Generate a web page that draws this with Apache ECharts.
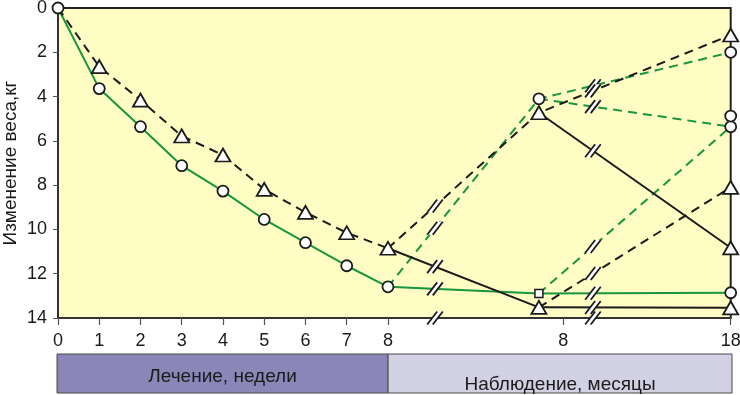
<!DOCTYPE html>
<html>
<head>
<meta charset="utf-8">
<script src="https://cdn.jsdelivr.net/npm/echarts@6/dist/echarts.min.js"></script>
<style>
html,body{margin:0;padding:0;background:#fff;}
#chart{width:740px;height:395px;}
</style>
</head>
<body>
<div id="chart"></div>
<script>
// ---------- data ----------
const weeks = [0, 1, 2, 3, 4, 5, 6, 7, 8];
const greenTreat = [0, 3.64, 5.36, 7.12, 8.27, 9.55, 10.6, 11.64, 12.59];
const blackTreat = [0, 2.65, 4.16, 5.78, 6.64, 8.19, 9.23, 10.15, 10.85];

// x-axis tick labels (weeks, then months)
const tickLabels = ['0', '1', '2', '3', '4', '5', '6', '7', '8', '8', '18'];

// follow-up branches: values at [week 8, month 8, month 18]
const greenSolidFU = [12.59, 12.89, 12.86];
const greenDashUp = [12.59, 4.1, 2.0];
const greenDashUpB = [null, 4.1, 5.36];
const greenDashLow = [null, 12.89, 5.36];
const blackDashUp = [10.85, 4.73, 1.22];
const blackSolidUp = [null, 4.73, 10.83];
const blackSolidLow = [10.85, 13.52, 13.54];
const blackDashLow = [null, 13.52, 8.1];
const loneCircle18 = [4.88];

const barLabels = ['Лечение, недели', 'Наблюдение, месяцы'];

// ---------- axis layout (compressed time scale) ----------
const X_MONTH8_TICK = 12.25;
const X_MONTH8_PT = 11.66;
const X_MONTH18 = 16.31;
const X_MAX = 16.31;
const BREAKS = [9.14, 12.97];
const tickPos = weeks.concat([X_MONTH8_TICK, X_MONTH18]);
const fuX = [8, X_MONTH8_PT, X_MONTH18];

function toPts(arr) {
  const out = [];
  arr.forEach((v, i) => { if (v != null) out.push([fuX[i], v]); });
  return out;
}

const GREEN = '#17963f';
const BLACK = '#1b1b1b';
const FONT = "'Liberation Sans Narrow', 'Liberation Sans', Arial, sans-serif";

function lineSeries(data, color, dashed) {
  return {
    type: 'line', data: data, showSymbol: false, symbol: 'none', z: 3,
    lineStyle: { color: color, width: 2, type: dashed ? [9, 6] : 'solid' },
    silent: true, animation: false
  };
}

const branches = [
  { d: greenSolidFU, c: GREEN, dash: false },
  { d: greenDashUp, c: GREEN, dash: true },
  { d: greenDashUpB, c: GREEN, dash: true },
  { d: greenDashLow, c: GREEN, dash: true },
  { d: blackDashUp, c: BLACK, dash: true },
  { d: blackSolidUp, c: BLACK, dash: false },
  { d: blackSolidLow, c: BLACK, dash: false },
  { d: blackDashLow, c: BLACK, dash: true }
];

// segments for break glyphs
const segments = [];
branches.forEach(b => {
  const p = toPts(b.d);
  for (let i = 0; i < p.length - 1; i++) segments.push([p[i][0], p[i][1], p[i + 1][0], p[i + 1][1]]);
});
segments.push([0, 14, X_MAX, 14]);

// markers
const circles = weeks.map((w, i) => [w, greenTreat[i]])
  .concat([[X_MONTH8_PT, greenDashUp[1]], [X_MONTH18, greenDashUp[2]], [X_MONTH18, greenDashUpB[2]],
           [X_MONTH18, loneCircle18[0]], [X_MONTH18, greenSolidFU[2]]]);
const triangles = weeks.slice(1).map((w, i) => [w, blackTreat[i + 1]])
  .concat([[X_MONTH8_PT, blackDashUp[1]], [X_MONTH18, blackDashUp[2]], [X_MONTH18, blackSolidUp[2]],
           [X_MONTH8_PT, blackSolidLow[1]], [X_MONTH18, blackSolidLow[2]], [X_MONTH18, blackDashLow[2]]]);
const squares = [[X_MONTH8_PT, greenSolidFU[1]]];

const series = [
  lineSeries(weeks.map((w, i) => [w, greenTreat[i]]), GREEN, false),
  lineSeries(weeks.map((w, i) => [w, blackTreat[i]]), BLACK, true)
];
branches.forEach(b => series.push(lineSeries(toPts(b.d), b.c, b.dash)));

// break glyphs
series.push({
  type: 'custom', z: 6, clip: false, silent: true, animation: false,
  data: segments,
  encode: { x: [0, 2], y: [1, 3] },
  renderItem: function (params, api) {
    const x1 = api.value(0), y1 = api.value(1), x2 = api.value(2), y2 = api.value(3);
    const p1 = api.coord([x1, y1]), p2 = api.coord([x2, y2]);
    const children = [];
    BREAKS.forEach(bx => {
      if (bx > Math.min(x1, x2) && bx < Math.max(x1, x2)) {
        const t = (bx - x1) / (x2 - x1);
        const cx = p1[0] + (p2[0] - p1[0]) * t;
        const cy = p1[1] + (p2[1] - p1[1]) * t;
        const hx = 5, hy = 6.5, off = 2.8;
        const a1 = [cx - off - hx, cy + hy], a2 = [cx - off + hx, cy - hy];
        const b1 = [cx + off - hx, cy + hy], b2 = [cx + off + hx, cy - hy];
        children.push({ type: 'polygon', shape: { points: [a1, a2, b2, b1] }, style: { fill: '#ffffff' } });
        children.push({ type: 'line', shape: { x1: a1[0], y1: a1[1], x2: a2[0], y2: a2[1] }, style: { stroke: BLACK, lineWidth: 1.8 } });
        children.push({ type: 'line', shape: { x1: b1[0], y1: b1[1], x2: b2[0], y2: b2[1] }, style: { stroke: BLACK, lineWidth: 1.8 } });
      }
    });
    return { type: 'group', children: children };
  }
});

const markerStyle = { color: '#ffffff', borderColor: BLACK, borderWidth: 1.8, opacity: 1 };
series.push({ type: 'scatter', data: circles, symbol: 'circle', symbolSize: 11, z: 8, itemStyle: markerStyle, silent: true, animation: false });
series.push({ type: 'scatter', data: triangles, symbol: 'triangle', symbolSize: [15, 13], z: 8, itemStyle: markerStyle, silent: true, animation: false });
series.push({ type: 'scatter', data: squares, symbol: 'rect', symbolSize: 8, z: 8, itemStyle: { color: '#ffffff', borderColor: BLACK, borderWidth: 1.5, opacity: 1 }, silent: true, animation: false });

// bottom phase bar
series.push({
  type: 'custom', xAxisIndex: 1, yAxisIndex: 1, silent: true, animation: false, clip: false,
  data: [[0, 8, 0], [8, X_MAX, 1]],
  encode: { x: [0, 1] },
  renderItem: function (params, api) {
    const a = api.coord([api.value(0), 1]);
    const b = api.coord([api.value(1), 0]);
    const idx = api.value(2);
    const w = b[0] - a[0], h = b[1] - a[1];
    return {
      type: 'group',
      children: [
        { type: 'rect', shape: { x: a[0], y: a[1], width: w, height: h },
          style: { fill: idx === 0 ? '#8b86b8' : '#d2d1e3', stroke: '#4a4a4a', lineWidth: 1 } },
        { type: 'text', style: { text: barLabels[idx], x: a[0] + w / 2, y: a[1] + h / 2 + (idx === 0 ? 3 : 11),
          align: 'center', verticalAlign: 'middle', fontSize: 19, fontFamily: FONT, fill: '#1a1a1a' } }
      ]
    };
  }
});

const chart = echarts.init(document.getElementById('chart'), null, { renderer: 'canvas' });
chart.setOption({
  animation: false,
  backgroundColor: '#ffffff',
  grid: [
    { left: 58, top: 8, right: 9.3, bottom: 77, show: true, backgroundColor: '#fffcc4',
      borderColor: '#222', borderWidth: 2, containLabel: false, outerBoundsMode: 'none' },
    { left: 57, top: 354, right: 8, height: 39, containLabel: false, outerBoundsMode: 'none' }
  ],
  xAxis: [
    { type: 'value', min: 0, max: X_MAX, gridIndex: 0,
      axisLine: { show: true, onZero: false, lineStyle: { color: '#333', width: 2 } },
      axisTick: { show: true, length: 7, customValues: tickPos, lineStyle: { color: '#555', width: 1.2 } },
      axisLabel: { customValues: tickPos, margin: 14, fontSize: 18, fontFamily: FONT, color: '#1a1a1a',
        formatter: function (v) { const i = tickPos.findIndex(p => Math.abs(p - v) < 1e-6); return i >= 0 ? tickLabels[i] : ''; } },
      splitLine: { show: false } },
    { type: 'value', min: 0, max: X_MAX, gridIndex: 1, show: false }
  ],
  yAxis: [
    { type: 'value', inverse: true, min: 0, max: 14, interval: 2, gridIndex: 0,
      name: 'Изменение веса,кг', nameLocation: 'middle', nameGap: 38, nameMoveOverlap: false,
      nameTextStyle: { fontSize: 19, fontFamily: FONT, color: '#1a1a1a' },
      axisLine: { show: true, onZero: false, lineStyle: { color: '#333', width: 2 } },
      axisTick: { show: true, length: 5, lineStyle: { color: '#555' } },
      axisLabel: { margin: 11, fontSize: 18, fontFamily: FONT, color: '#1a1a1a' },
      splitLine: { show: false } },
    { type: 'value', min: 0, max: 1, gridIndex: 1, show: false }
  ],
  series: series
});
</script>
</body>
</html>
